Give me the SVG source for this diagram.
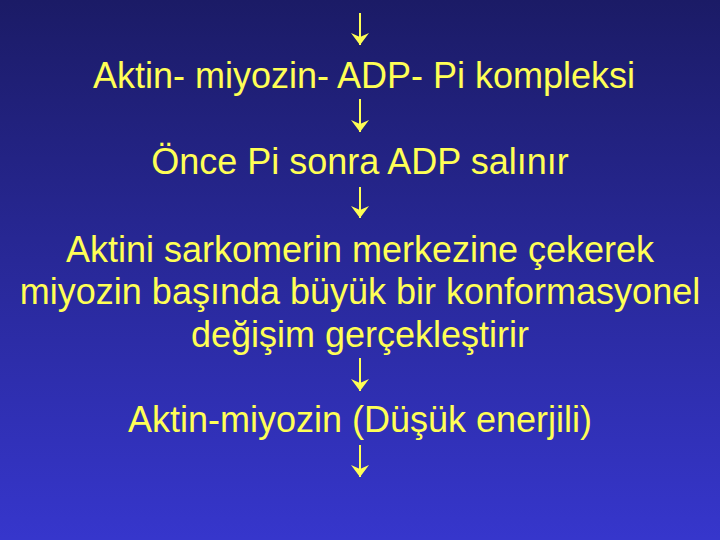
<svg xmlns="http://www.w3.org/2000/svg" width="720" height="540" viewBox="0 0 720 540">
<defs>
<linearGradient id="bg" x1="0" y1="0" x2="0" y2="1">
<stop offset="0" stop-color="#1b1b66"/>
<stop offset="1" stop-color="#3636cc"/>
</linearGradient>
<marker id="ah" viewBox="0 0 12 18" refX="12" refY="9" markerWidth="12" markerHeight="18" markerUnits="userSpaceOnUse" orient="auto">
<path d="M0,0 L12,9 L0,18 L4,9 Z" fill="#ffff55"/>
</marker>
<style>
text{font-family:"Liberation Sans",Arial,sans-serif;font-size:36px;fill:#ffff55;text-anchor:middle}
.c{stroke:#ffff55;stroke-width:2;fill:none;marker-end:url(#ah)}
</style>
</defs>
<rect width="720" height="540" fill="url(#bg)"/>
<g id="connectors">
<line class="c" x1="360" y1="13" x2="360" y2="45"/>
<line class="c" x1="360" y1="99" x2="360" y2="132"/>
<line class="c" x1="360" y1="187" x2="360" y2="218"/>
<line class="c" x1="360" y1="358" x2="360" y2="391"/>
<line class="c" x1="360" y1="445" x2="360" y2="477"/>
</g>
<g id="n1"><text x="364" y="88">Aktin- miyozin- ADP- Pi kompleksi</text></g>
<g id="n2"><text x="360" y="174">Önce Pi sonra ADP salınır</text></g>
<g id="n3"><text x="360" y="262">Aktini sarkomerin merkezine çekerek</text><text x="360" y="304">miyozin başında büyük bir konformasyonel</text><text x="360" y="347">değişim gerçekleştirir</text></g>
<g id="n4"><text x="360" y="432">Aktin-miyozin (Düşük enerjili)</text></g>
</svg>
